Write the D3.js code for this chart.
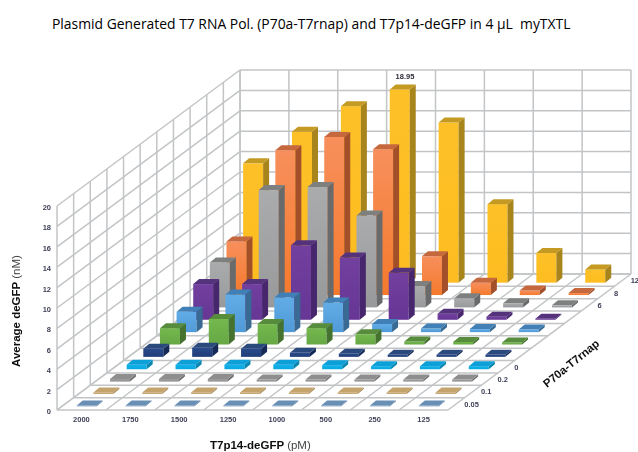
<!DOCTYPE html>
<html><head><meta charset="utf-8">
<script src="https://cdn.jsdelivr.net/npm/d3@7"></script>
<style>html,body{margin:0;padding:0;background:#fff}svg{display:block}</style></head>
<body><svg id="c" width="638" height="452"></svg>
<script>
const titleText = "Plasmid Generated T7 RNA Pol. (P70a-T7rnap) and T7p14-deGFP in 4 µL\u00A0 myTXTL";
const doses = ["2000","1750","1500","1250","1000","500","250","125"];
const rowLabels = ["0.05","0.1","0.2","0","a","b","c","d","6","8","12"];
const yTicks = [0,2,4,6,8,10,12,14,16,18,20];
const v005 = [0.08,0.08,0.08,0.08,0.08,0.08,0.08,0.08];
const v01  = [0.15,0.15,0.15,0.15,0.15,0.15,0.15,0.15];
const v02  = [0.25,0.25,0.25,0.2,0.2,0.2,0.2,0.2];
const v0   = [0.45,0.45,0.45,0.45,0.4,0.3,0.3,0.3];
const v03  = [0.8,0.9,0.8,0.4,0.3,0.2,0.2,0.2];
const v1   = [1.6,2.5,2.0,1.6,1.0,0.3,0.25,0.2];
const v2   = [2.0,3.7,3.4,2.9,0.8,0.35,0.3,0.25];
const v4   = [3.5,3.5,7.3,6.1,4.6,0.6,0.3,0.1];
const v6   = [4.4,11.5,11.8,9.0,2.1,0.9,0.4,0.2];
const v8   = [5.25,14.2,15.5,14.3,3.8,1.2,0.45,0.2];
const v12  = [11.7,14.8,17.3,18.95,15.7,7.7,2.9,1.3];
const rows = [v005,v01,v02,v0,v03,v1,v2,v4,v6,v8,v12];
const faceTop = ["#7396bb","#c9a872","#9a9a9a","#0fb2ea","#2a4a8c","#74b84e","#62ace6","#72409f","#a9abac","#f78f5c","#fdc026"];
const faceBot = ["#6a8fb5","#c4a46c","#929292","#0aa8e0","#213d78","#66a844","#4f9ad8","#663695","#97999a","#f57a2c","#fdbd22"];
const faceSide= ["#54749a","#a58a58","#707070","#0786b0","#172c58","#44722f","#386a94","#47276e","#696b6c","#a3502a","#a8841f"];
const faceCap = ["#6a8fb5","#c4a46c","#8e8e8e","#0aa0d8","#2c4a7c","#568c3a","#4080b6","#54307c","#7e8080","#c6673e","#c49a22"];

const svg = d3.select("#c");
const W = 391, H = 204, X0 = 57, Y0 = 410, DX = 183, DY = 136;
const col = d3.scaleBand().domain(doses).range([0, W]);
const depth = d3.scaleBand().domain(rowLabels).range([0, 1]);
const y = d3.scaleLinear().domain([0, 20]).range([0, H]);
const P = (a, d, h) => [X0 + a + d * DX, Y0 - d * DY - h];
const pts = a => a.map(p => p.join(",")).join(" ");

svg.append("text").attr("x", 52).attr("y", 29).attr("font-family", "Open Sans").attr("font-size", 13.9).attr("fill", "#000").text(titleText);

const defs = svg.append("defs");
defs.append("filter").attr("id", "soft").attr("x", "-2%").attr("y", "-2%").attr("width", "104%").attr("height", "104%")
  .append("feGaussianBlur").attr("stdDeviation", 0.45);
rows.forEach((r, i) => {
  const g = defs.append("linearGradient").attr("id", "g" + i).attr("x1", 0).attr("x2", 0).attr("y1", 0).attr("y2", 1);
  g.append("stop").attr("offset", 0).attr("stop-color", faceTop[i]);
  g.append("stop").attr("offset", 1).attr("stop-color", faceBot[i]);
});

const chart = svg.append("g").attr("filter", "url(#soft)");
const grid = chart.append("g").attr("fill", "none").attr("stroke", "#c2c4c6").attr("stroke-width", 1.5);
const gl = (a, b) => grid.append("line").attr("x1", a[0]).attr("y1", a[1]).attr("x2", b[0]).attr("y2", b[1]);
const dEdges = d3.range(rowLabels.length + 1).map(i => i / rowLabels.length);
const cEdges = d3.range(doses.length + 1).map(i => i * col.bandwidth());
yTicks.forEach(t => {
  gl(P(0, 0, y(t)), P(0, 1, y(t)));
  gl(P(0, 1, y(t)), P(W, 1, y(t)));
});
dEdges.forEach(d => { gl(P(0, d, 0), P(0, d, H)); gl(P(0, d, 0), P(W, d, 0)); });
cEdges.forEach(a => { gl(P(a, 1, 0), P(a, 1, H)); gl(P(a, 0, 0), P(a, 1, 0)); });

const fw = 20, bx = 6, by = 5;
const bars = chart.append("g");
d3.range(rows.length - 1, -1, -1).forEach(i => {
  const dc = depth(rowLabels[i]) + depth.bandwidth() / 2;
  doses.forEach((k, j) => {
    const val = rows[i][j];
    const c = P(col(k) + col.bandwidth() / 2, dc, 0);
    const l = c[0] - 13, b = c[1] + 2.5, h = y(val);
    const g = bars.append("g");
    g.append("rect").attr("x", l).attr("y", b - h).attr("width", fw).attr("height", h).attr("fill", `url(#g${i})`);
    g.append("polygon").attr("points", pts([[l + fw, b], [l + fw + bx, b - by], [l + fw + bx, b - by - h], [l + fw, b - h]])).attr("fill", faceSide[i]);
    g.append("polygon").attr("points", pts([[l, b - h], [l + bx, b - h - by], [l + fw + bx, b - h - by], [l + fw, b - h]])).attr("fill", faceCap[i]);
  });
});

const tickCol = "#3f4258";
const yAxis = chart.append("g").attr("transform", `translate(${X0},${Y0 + 1})`)
  .call(d3.axisLeft(d3.scaleLinear().domain([0, 20]).range([0, -H])).tickValues(yTicks).tickSize(0).tickPadding(6));
yAxis.select(".domain").remove();
yAxis.selectAll("text").attr("font-family", "Liberation Sans").attr("font-size", 7.5).attr("font-weight", "bold").attr("fill", tickCol);

const xAxis = chart.append("g").attr("transform", `translate(${X0},${Y0})`)
  .call(d3.axisBottom(col).tickSize(0).tickPadding(7));
xAxis.select(".domain").remove();
xAxis.selectAll("text").attr("font-family", "Liberation Sans").attr("font-size", 7.5).attr("font-weight", "bold").attr("fill", tickCol);

chart.append("g").selectAll("text").data(rowLabels.filter(s => !"abcd".includes(s))).join("text")
  .attr("x", s => P(W, depth(s) + depth.bandwidth() / 2, 0)[0] + 8)
  .attr("y", s => P(W, depth(s) + depth.bandwidth() / 2, 0)[1] + 3)
  .attr("font-family", "Liberation Sans").attr("font-size", 7.5).attr("font-weight", "bold").attr("fill", tickCol).text(s => s);

chart.append("text").attr("x", 405).attr("y", 79).attr("text-anchor", "middle").attr("font-family", "Liberation Sans")
  .attr("font-size", 7.5).attr("font-weight", "bold").attr("fill", "#2d2d3a").text(String(d3.max(v12)));

const t1 = chart.append("text").attr("transform", "translate(20,367) rotate(-90)").attr("font-family", "Liberation Sans").attr("font-size", 11.5).attr("fill", "#111");
t1.append("tspan").attr("font-weight", "bold").text("Average deGFP ");
t1.append("tspan").attr("fill", "#444").text("(nM)");
const t2 = chart.append("text").attr("x", 210).attr("y", 449).attr("font-family", "Liberation Sans").attr("font-size", 11.5).attr("fill", "#111");
t2.append("tspan").attr("font-weight", "bold").text("T7p14-deGFP ");
t2.append("tspan").attr("fill", "#444").text("(pM)");
chart.append("text").attr("transform", "translate(547,388) rotate(-39)").attr("font-family", "Liberation Sans").attr("font-size", 11.4).attr("font-weight", "bold").attr("fill", "#111").text("P70a-T7rnap");
</script></body></html>
